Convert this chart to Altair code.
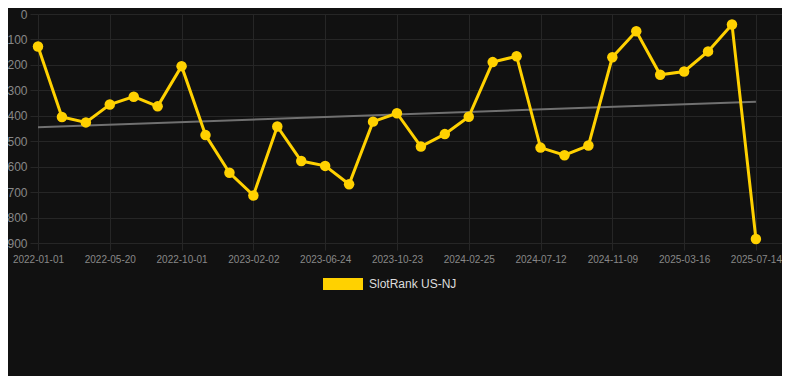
import json
import altair as alt
import pandas as pd

# ---- data ----
ranks = [128, 405, 426, 356, 325, 363, 205, 476, 624, 713, 442, 578, 597, 669, 423,
         390, 521, 472, 404, 189, 166, 525, 555, 517, 170, 68, 239, 226, 147, 41, 884]
tick_labels = ["2022-01-01", "2022-05-20", "2022-10-01", "2023-02-02", "2023-06-24",
               "2023-10-23", "2024-02-25", "2024-07-12", "2024-11-09", "2025-03-16",
               "2025-07-14"]
series_name = "SlotRank US-NJ"
y_ticks = [0, 100, 200, 300, 400, 500, 600, 700, 800, 900]

df = pd.DataFrame({
    "idx": list(range(len(ranks))),
    "rank": ranks,
    "series": [series_name] * len(ranks),
})

YELLOW = "#FFD100"
GRID = "#262626"
LABEL = "#888888"
FONT = "Liberation Sans"

label_expr = json.dumps(tick_labels) + "[round(datum.value / 3)]"

x_enc = alt.X(
    "idx:Q",
    scale=alt.Scale(domain=[0, 31.09], nice=False, zero=False),
    axis=alt.Axis(
        values=list(range(0, 31, 3)),
        labelExpr=label_expr,
        title=None,
        grid=True,
        gridColor=GRID,
        domain=False,
        ticks=True,
        tickColor=GRID,
        tickSize=7,
        labelColor=LABEL,
        labelFontSize=10,
        labelFont=FONT,
        labelPadding=4,
        labelFlush=False,
    ),
)
y_enc = alt.Y(
    "rank:Q",
    scale=alt.Scale(domain=[0, 900], reverse=True, nice=False),
    axis=alt.Axis(
        values=y_ticks,
        title=None,
        grid=True,
        gridColor=GRID,
        domain=False,
        ticks=True,
        tickColor=GRID,
        tickSize=8,
        labelColor=LABEL,
        labelFontSize=12,
        labelFont=FONT,
        labelPadding=3,
    ),
)

base = alt.Chart(df)

trend = base.transform_regression("idx", "rank").mark_line(
    color="#707070", strokeWidth=2
).encode(x=x_enc, y=y_enc)

line = base.mark_line(color=YELLOW, strokeWidth=3).encode(x=x_enc, y=y_enc)

points = base.mark_point(filled=True, size=110, opacity=1).encode(
    x=x_enc,
    y=y_enc,
    color=alt.Color(
        "series:N",
        scale=alt.Scale(domain=[series_name], range=[YELLOW]),
        legend=alt.Legend(
            title=None,
            orient="none",
            legendX=285,
            legendY=250,
            direction="horizontal",
            symbolType="M-1,-0.3L1,-0.3L1,0.3L-1,0.3Z",
            symbolSize=1600,
            symbolStrokeWidth=0,
            symbolOpacity=1,
            labelColor="#dddddd",
            labelFontSize=12,
            labelFont=FONT,
            labelOffset=6,
            padding=0,
        ),
    ),
)

chart = alt.layer(trend, line, points).properties(
    width=744,
    height=229,
    background="#111111",
    autosize=alt.AutoSizeParams(type="none"),
    padding={"left": 30, "top": 6, "right": 0, "bottom": 133},
).configure_view(stroke=None)

chart.save("out.html", embed_options={"renderer": "svg", "actions": False})
